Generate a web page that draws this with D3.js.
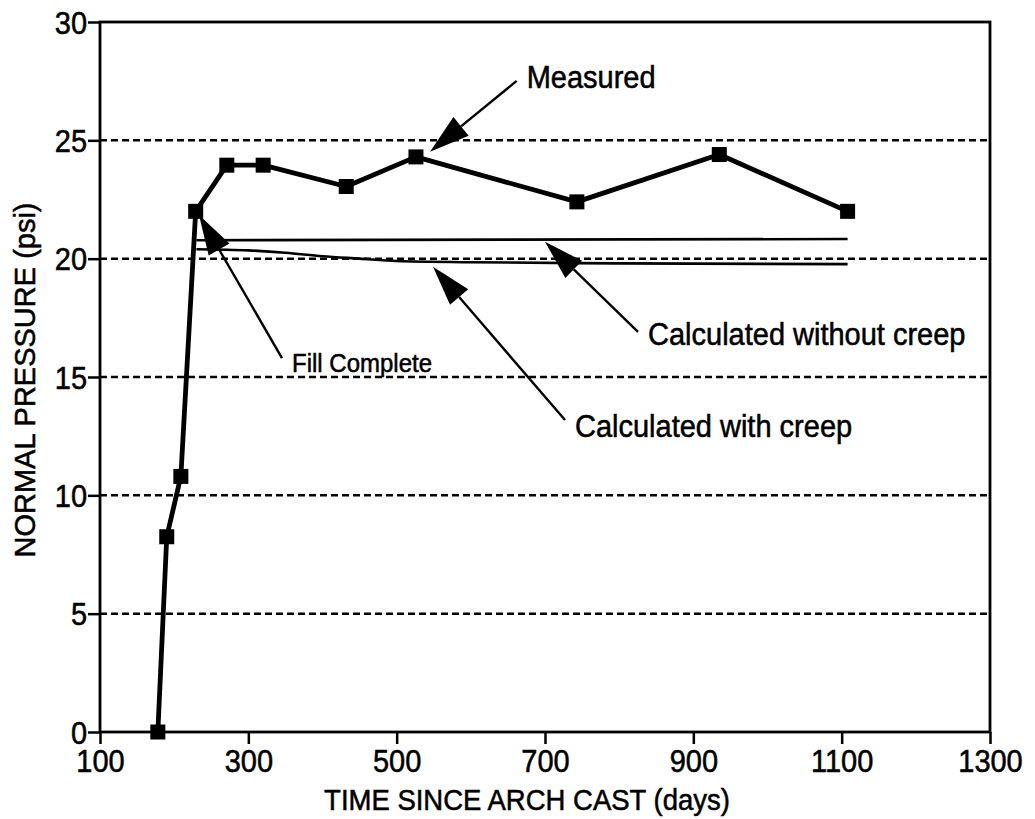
<!DOCTYPE html>
<html><head><meta charset="utf-8">
<script src="https://cdn.jsdelivr.net/npm/d3@7"></script>
<style>
body{margin:0;background:#fff}
svg text{font-family:"Liberation Sans",Arial,Helvetica,sans-serif;fill:#000;stroke:#000;stroke-width:0.5px}
</style>
</head><body>
<svg id="c" width="1035" height="819"></svg>
<script>
// ---- data ----
const xTicks = [100, 300, 500, 700, 900, 1100, 1300];
const yTicks = [0, 5, 10, 15, 20, 25, 30];
const gridValues = [5, 10, 15, 20, 25];

const measuredDays = [178, 190, 209, 229, 271, 320, 432, 526, 743, 935, 1108];
const measuredPsi  = [0, 8.25, 10.8, 22.0, 23.95, 23.95, 23.05, 24.3, 22.4, 24.4, 22.0];

const noCreepDays = [230, 1108];
const noCreepPsi  = [20.78, 20.83];

const creepDays = [230, 300, 350, 400, 450, 500, 600, 800, 1108];
const creepPsi  = [20.4, 20.35, 20.25, 20.1, 20.0, 19.9, 19.85, 19.8, 19.77];

const xLabel = "TIME SINCE ARCH CAST (days)";
const yLabel = "NORMAL PRESSURE (psi)";

// annotations in data units: tip, tail, text anchor
const annLabels = ["Measured", "Calculated without creep", "Calculated with creep", "Fill Complete"];
const annTip  = [[545, 24.52], [700, 20.72], [549, 19.66], [233.5, 21.85]];
const annTail = [[661.8, 27.51], [825.4, 16.91], [727, 13.18], [345.4, 15.80]];
const annText = [[675.3, 27.2], [838.9, 16.35], [740.4, 12.46], [358.9, 15.2]];
const annSize = [29, 29, 29, 24];

// ---- chart ----
const svg = d3.select("#c");
const x = d3.scaleLinear().domain([100, 1300]).range([100, 990]);
const y = d3.scaleLinear().domain([0, 30]).range([732, 22]);

// gridlines
svg.append("g").selectAll("line").data(gridValues).join("line")
  .attr("x1", x(100)).attr("x2", x(1300))
  .attr("y1", d => y(d)).attr("y2", d => y(d))
  .attr("stroke", "#000").attr("stroke-width", 2.5).attr("stroke-dasharray", "7,4");

// frame
svg.append("rect")
  .attr("x", x(100)).attr("y", y(30))
  .attr("width", x(1300) - x(100)).attr("height", y(0) - y(30))
  .attr("fill", "none").attr("stroke", "#000").attr("stroke-width", 2.8);

// y axis
const gy = svg.append("g").attr("transform", `translate(${x(100)},0)`)
  .call(d3.axisLeft(y).tickValues(yTicks).tickSize(12).tickFormat(d3.format("d")));
gy.select(".domain").remove();
gy.selectAll("line").attr("stroke", "#000").attr("stroke-width", 2.5);
gy.selectAll("text").attr("font-size", 29).attr("x", -13).attr("dy", null).attr("y", 10)
  .attr("transform", "scale(1,1.1)").attr("fill", "#000");

// x axis
const gx = svg.append("g").attr("transform", `translate(0,${y(0)})`)
  .call(d3.axisBottom(x).tickValues(xTicks).tickSize(12).tickFormat(d3.format("d")));
gx.select(".domain").remove();
gx.selectAll("line").attr("stroke", "#000").attr("stroke-width", 2.5);
gx.selectAll("text").attr("font-size", 29).attr("dy", null).attr("y", 36.6)
  .attr("transform", "scale(1,1.1)").attr("fill", "#000");

// axis titles
svg.append("text").attr("transform", `translate(527,810) scale(1,1.05)`)
  .attr("text-anchor", "middle").attr("font-size", 27.5).text(xLabel);
svg.append("text").attr("transform", `translate(35,380) rotate(-90)`)
  .attr("text-anchor", "middle").attr("font-size", 29).text(yLabel);

// calculated lines
const line = d3.line().x(d => x(d[0])).y(d => y(d[1]));
svg.append("path").datum(noCreepDays.map((d, i) => [d, noCreepPsi[i]]))
  .attr("d", line).attr("fill", "none").attr("stroke", "#000").attr("stroke-width", 2.6);
svg.append("path").datum(creepDays.map((d, i) => [d, creepPsi[i]]))
  .attr("d", d3.line().x(d => x(d[0])).y(d => y(d[1])).curve(d3.curveMonotoneX))
  .attr("fill", "none").attr("stroke", "#000").attr("stroke-width", 2.6);

// measured
const meas = measuredDays.map((d, i) => [d, measuredPsi[i]]);
svg.append("path").datum(meas).attr("d", line)
  .attr("fill", "none").attr("stroke", "#000").attr("stroke-width", 4.8).attr("stroke-linejoin", "round");
const ms = 15;
svg.append("g").selectAll("rect").data(meas).join("rect")
  .attr("x", d => x(d[0]) - ms / 2).attr("y", d => y(d[1]) - ms / 2)
  .attr("width", ms).attr("height", ms).attr("fill", "#000");

// annotations
const ag = svg.append("g");
annLabels.forEach((lab, i) => {
  const tx = x(annTip[i][0]), ty = y(annTip[i][1]);
  const sx = x(annTail[i][0]), sy = y(annTail[i][1]);
  const dx = sx - tx, dy = sy - ty, L = Math.hypot(dx, dy);
  const ux = dx / L, uy = dy / L;
  const hl = 40, hw = 12;
  const bx = tx + ux * hl, by = ty + uy * hl;
  ag.append("line").attr("x1", bx).attr("y1", by).attr("x2", sx).attr("y2", sy)
    .attr("stroke", "#000").attr("stroke-width", 2.4);
  ag.append("path")
    .attr("d", `M${tx},${ty}L${bx - uy * hw},${by + ux * hw}L${bx + uy * hw},${by - ux * hw}Z`)
    .attr("fill", "#000");
  ag.append("text")
    .attr("transform", `translate(${x(annText[i][0])},${y(annText[i][1])}) scale(1,1.08)`)
    .attr("font-size", annSize[i]).text(lab);
});
</script>
</body></html>
